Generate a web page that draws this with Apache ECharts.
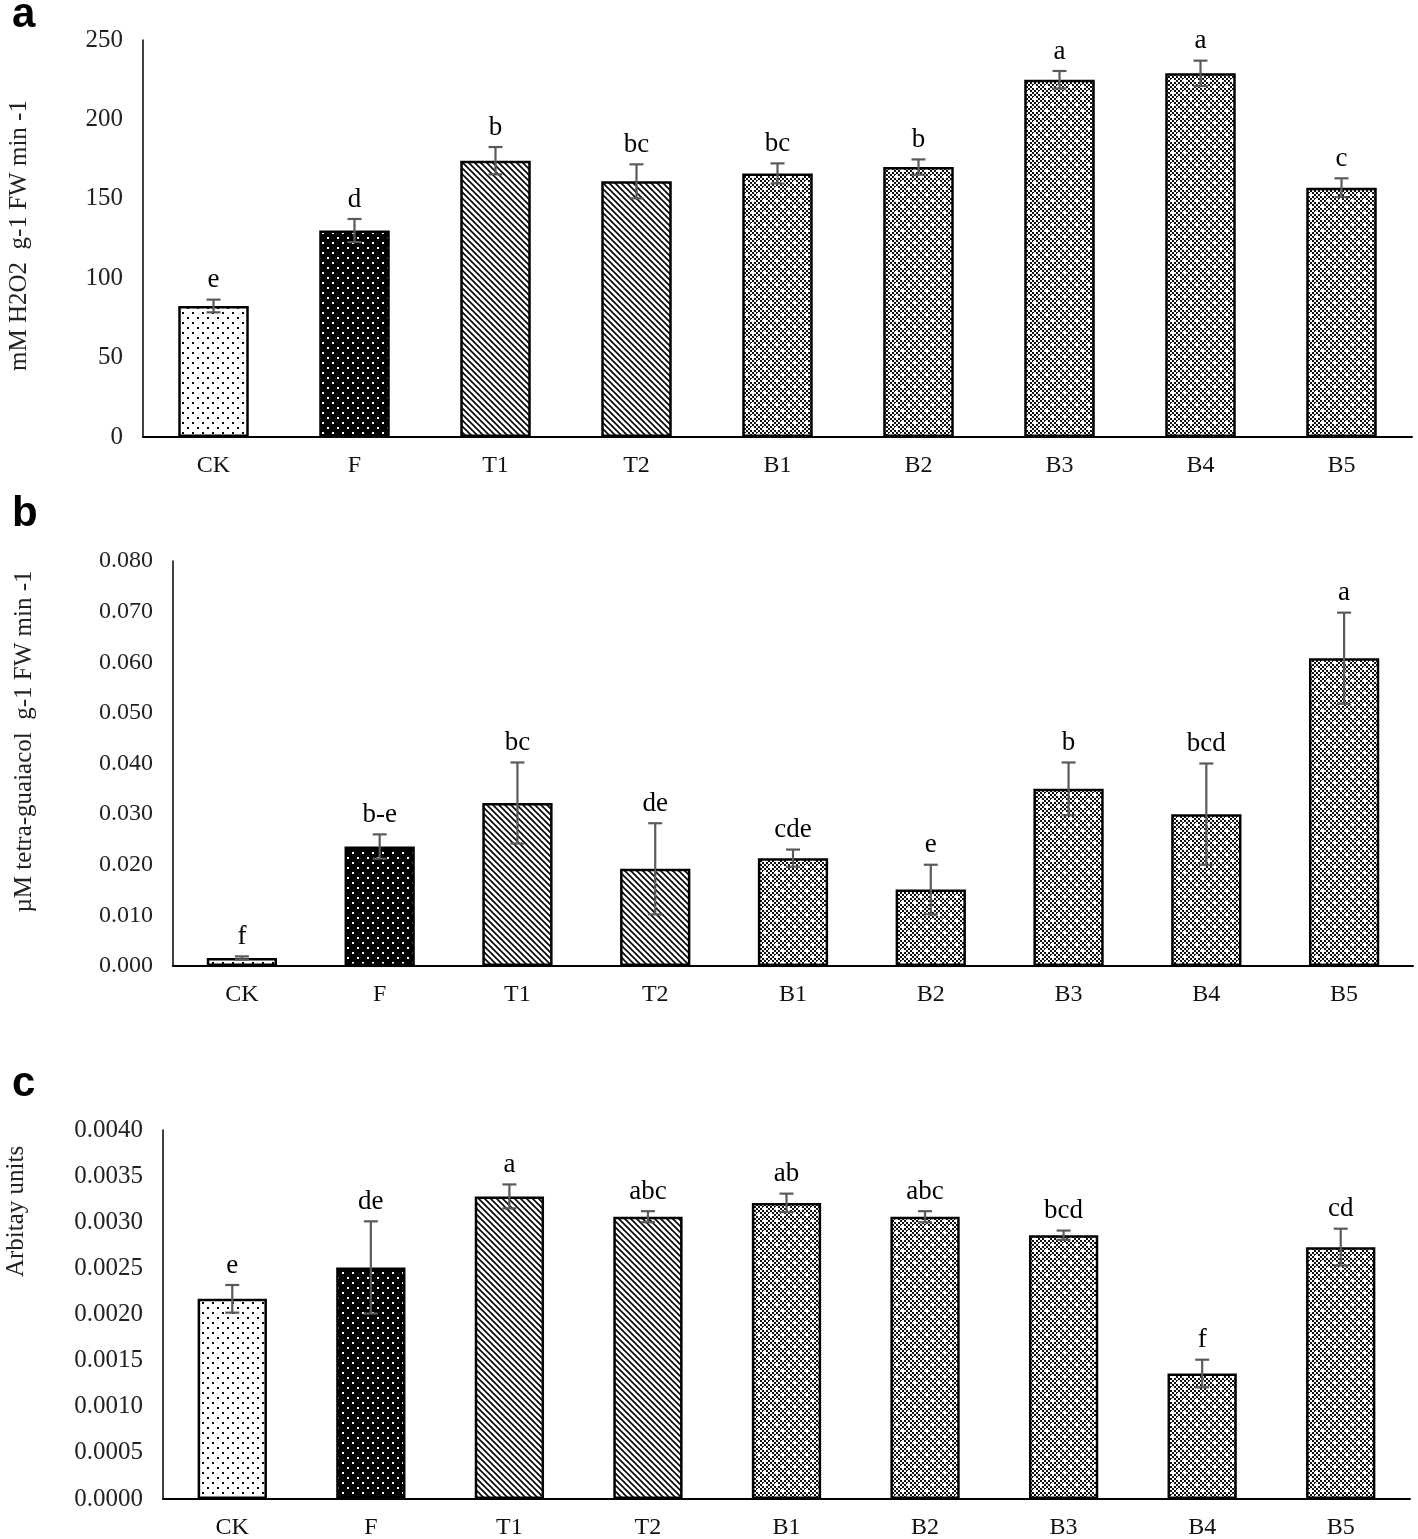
<!DOCTYPE html>
<html>
<head>
<meta charset="utf-8">
<script src="https://cdn.jsdelivr.net/npm/echarts@6/dist/echarts.min.js"></script>
<style>
html,body{margin:0;padding:0;background:#fff;}
#chart{width:1418px;height:1539px;}
</style>
</head>
<body>
<div id="chart"></div>
<script>
// ---- data ----
const categories = ['CK', 'F', 'T1', 'T2', 'B1', 'B2', 'B3', 'B4', 'B5'];

const valuesA = [82.5, 130, 174, 161, 166, 170, 225, 229, 157];
const errorsA = [4, 7.3, 8.6, 10.7, 6.3, 4.8, 5.5, 8, 5.9];
const lettersA = ['e', 'd', 'b', 'bc', 'bc', 'b', 'a', 'a', 'c'];
const ticksA = [0, 50, 100, 150, 200, 250];

const valuesB = [0.0016, 0.0236, 0.0322, 0.0192, 0.0213, 0.0151, 0.0350, 0.0300, 0.0608];
const errorsB = [0.0003, 0.0024, 0.0080, 0.0090, 0.0017, 0.0049, 0.0052, 0.0100, 0.0090];
const lettersB = ['f', 'b-e', 'bc', 'de', 'cde', 'e', 'b', 'bcd', 'a'];
const ticksB = [0, 0.01, 0.02, 0.03, 0.04, 0.05, 0.06, 0.07, 0.08];

const valuesC = [0.00217, 0.00251, 0.00328, 0.00306, 0.00321, 0.00306, 0.00286, 0.00136, 0.00273];
const errorsC = [0.00015, 0.00050, 0.00013, 0.00006, 0.00010, 0.00006, 0.00005, 0.00015, 0.00020];
const lettersC = ['e', 'de', 'a', 'abc', 'ab', 'abc', 'bcd', 'f', 'cd'];
const ticksC = [0, 0.0005, 0.001, 0.0015, 0.002, 0.0025, 0.003, 0.0035, 0.004];

// ---- fill patterns (style only) ----
function makeCanvas(w, h, draw) {
  const c = document.createElement('canvas');
  c.width = w; c.height = h;
  const ctx = c.getContext('2d');
  draw(ctx, w, h);
  return c;
}
const patLight = makeCanvas(10, 10, (ctx) => {
  ctx.fillStyle = '#fff'; ctx.fillRect(0, 0, 10, 10);
  ctx.fillStyle = '#000';
  ctx.fillRect(2, 2, 2, 2);
  ctx.fillRect(7, 7, 2, 2);
});
const patDark = makeCanvas(10, 10, (ctx) => {
  ctx.fillStyle = '#000'; ctx.fillRect(0, 0, 10, 10);
  ctx.fillStyle = '#fff';
  ctx.fillRect(2, 2, 2, 2);
  ctx.fillRect(7, 7, 2, 2);
});
const patHatch = makeCanvas(6, 6, (ctx) => {
  ctx.fillStyle = '#fff'; ctx.fillRect(0, 0, 6, 6);
  ctx.strokeStyle = '#000'; ctx.lineWidth = 1.6;
  for (let k = -6; k <= 6; k += 6) {
    ctx.beginPath(); ctx.moveTo(k - 1, -1); ctx.lineTo(k + 7, 7); ctx.stroke();
  }
});
const patGrid = makeCanvas(12, 12, (ctx) => {
  ctx.fillStyle = '#fff'; ctx.fillRect(0, 0, 12, 12);
  ctx.fillStyle = '#111';
  for (let i = 0; i < 6; i++) for (let j = 0; j < 6; j++) {
    if ((i + j) % 2 === 0) ctx.fillRect(i * 2, j * 2, 2, 2);
  }
  ctx.fillStyle = '#fff';
  ctx.fillRect(1, 1, 3, 3);
  ctx.fillRect(7, 7, 3, 3);
});
const patternFor = [patLight, patDark, patHatch, patHatch, patGrid, patGrid, patGrid, patGrid, patGrid];

// ---- layout ----
const grids = [
  { left: 143, top: 40, width: 1269, height: 397 },
  { left: 173, top: 561, width: 1240, height: 405 },
  { left: 163, top: 1130, width: 1247, height: 369 }
];
const serif = 'Liberation Serif';

function barData(vals) {
  return vals.map((v, i) => ({
    value: v,
    itemStyle: { color: { image: patternFor[i], repeat: 'repeat' } }
  }));
}
function errData(vals, errs, letters) {
  return vals.map((v, i) => [i, v, errs[i], letters[i]]);
}
const letters = { 1: lettersA, 3: lettersB, 5: lettersC };
function errRender(cap) {
  return function (params, api) {
    const i = api.value(0), v = api.value(1), e = api.value(2);
    const letter = letters[params.seriesIndex][params.dataIndex];
    const top = api.coord([i, v + e]);
    const bot = api.coord([i, v - e]);
    const x = top[0];
    const st = { stroke: '#5a5a5a', lineWidth: 2.2 };
    return {
      type: 'group',
      children: [
        { type: 'line', shape: { x1: x, y1: top[1], x2: x, y2: bot[1] }, style: st },
        { type: 'line', shape: { x1: x - cap, y1: top[1], x2: x + cap, y2: top[1] }, style: st },
        { type: 'line', shape: { x1: x - cap, y1: bot[1], x2: x + cap, y2: bot[1] }, style: st },
        { type: 'text', x: x, y: top[1] - 6,
          style: { text: letter, fill: '#000', font: '27px "' + serif + '"', textAlign: 'center', textVerticalAlign: 'bottom' } }
      ]
    };
  };
}

function xAxis(gi) {
  return {
    type: 'category', gridIndex: gi, data: categories,
    axisLine: { lineStyle: { color: '#000', width: 2 } },
    axisTick: { show: false },
    axisLabel: { color: '#111', fontFamily: serif, fontSize: 24, margin: 17 }
  };
}
function yAxis(gi, max, interval, dec, fs, name, nameGap, pad) {
  return {
    type: 'value', gridIndex: gi, min: 0, max: max, interval: interval,
    splitLine: { show: false },
    axisLine: { show: true, lineStyle: { color: '#000', width: 1.5 } },
    axisTick: { show: false },
    axisLabel: { color: '#222', fontFamily: serif, fontSize: fs, margin: 20,
      formatter: (v) => v.toFixed(dec) },
    name: name, nameLocation: 'middle', nameGap: nameGap, nameRotate: 90,
    nameTextStyle: { color: '#222', fontFamily: serif, fontSize: 25, padding: pad }
  };
}

const option = {
  animation: false,
  backgroundColor: '#fff',
  grid: grids.map(g => Object.assign({ containLabel: false, outerBoundsMode: 'none' }, g)),
  xAxis: [xAxis(0), xAxis(1), xAxis(2)],
  yAxis: [
    yAxis(0, ticksA[ticksA.length - 1], ticksA[1] - ticksA[0], 0, 25, 'mM H2O2  g-1 FW min -1', 111, [0, 0, 0, 6]),
    yAxis(1, ticksB[ticksB.length - 1], ticksB[1] - ticksB[0], 3, 24, 'µM tetra-guaiacol  g-1 FW min -1', 136, [0, 0, 0, 44]),
    yAxis(2, ticksC[ticksC.length - 1], ticksC[1] - ticksC[0], 4, 25, 'Arbitay units', 134, [0, 0, 0, 206])
  ],
  graphic: [
    { type: 'text', left: 12, top: -6, style: { text: 'a', font: 'bold 42px "Liberation Sans"', fill: '#000' } },
    { type: 'text', left: 12, top: 493, style: { text: 'b', font: 'bold 42px "Liberation Sans"', fill: '#000' } },
    { type: 'text', left: 12, top: 1063, style: { text: 'c', font: 'bold 42px "Liberation Sans"', fill: '#000' } }
  ],
  series: [
    { type: 'bar', xAxisIndex: 0, yAxisIndex: 0, barWidth: '50%', data: barData(valuesA),
      itemStyle: { borderColor: '#000', borderWidth: 2.5 } },
    { type: 'custom', xAxisIndex: 0, yAxisIndex: 0, data: errData(valuesA, errorsA, lettersA),
      renderItem: errRender(7), encode: { x: 0, y: 1 }, z: 5 },
    { type: 'bar', xAxisIndex: 1, yAxisIndex: 1, barWidth: '51%', data: barData(valuesB),
      itemStyle: { borderColor: '#000', borderWidth: 2.5 } },
    { type: 'custom', xAxisIndex: 1, yAxisIndex: 1, data: errData(valuesB, errorsB, lettersB),
      renderItem: errRender(7), encode: { x: 0, y: 1 }, z: 5 },
    { type: 'bar', xAxisIndex: 2, yAxisIndex: 2, barWidth: '50%', data: barData(valuesC),
      itemStyle: { borderColor: '#000', borderWidth: 2.5 } },
    { type: 'custom', xAxisIndex: 2, yAxisIndex: 2, data: errData(valuesC, errorsC, lettersC),
      renderItem: errRender(7), encode: { x: 0, y: 1 }, z: 5 }
  ]
};
const chart = echarts.init(document.getElementById('chart'), null, { renderer: 'canvas' });
chart.setOption(option);
</script>
</body>
</html>
